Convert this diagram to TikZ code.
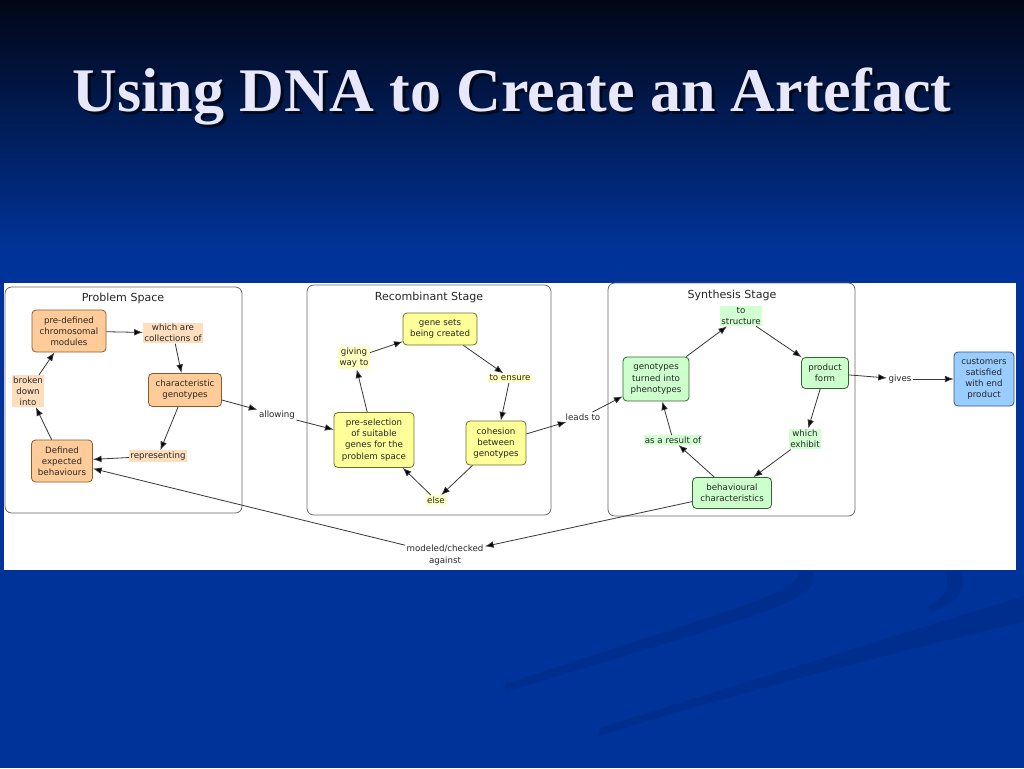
\documentclass[tikz,border=0pt]{standalone}
\usepackage{fontspec}
\setmainfont{Liberation Serif}
\newfontfamily\mapfont{DejaVu Sans}
\usetikzlibrary{positioning,arrows.meta}
\definecolor{bgtop}{RGB}{2,6,22}
\definecolor{bgmid}{RGB}{5,28,96}
\definecolor{bgclr}{RGB}{0,51,153}
\definecolor{swishclr}{RGB}{0,42,132}
\definecolor{titleclr}{RGB}{232,232,250}
\definecolor{probclr}{RGB}{255,204,153}
\definecolor{probedge}{RGB}{140,90,45}
\definecolor{probphr}{RGB}{255,222,190}
\definecolor{recclr}{RGB}{255,255,153}
\definecolor{recedge}{RGB}{110,110,50}
\definecolor{recphr}{RGB}{255,255,190}
\definecolor{synclr}{RGB}{204,255,204}
\definecolor{synedge}{RGB}{50,100,50}
\definecolor{synphr}{RGB}{210,255,210}
\definecolor{custclr}{RGB}{153,204,255}
\definecolor{custedge}{RGB}{50,85,140}
\definecolor{lineclr}{RGB}{55,55,55}
\tikzset{ %
  ,>={Latex[length=6.5pt,width=5pt]}
  ,every node/.style={font=\mapfont\fontsize{6.5}{8.4}\selectfont, text=black!85}
  ,concept/.style={draw, rounded corners=3pt, line width=0.6pt, align=center, inner sep=1pt}
  ,probbox/.style={concept, fill=probclr, draw=probedge}
  ,recbox/.style={concept, fill=recclr, draw=recedge}
  ,synbox/.style={concept, fill=synclr, draw=synedge}
  ,custbox/.style={concept, fill=custclr, draw=custedge}
  ,phrase/.style={align=center, inner sep=1pt}
  ,probphrase/.style={phrase, fill=probphr}
  ,recphrase/.style={phrase, fill=recphr}
  ,synphrase/.style={phrase, fill=synphr}
  ,group/.style={draw=black!60, fill=white, rounded corners=5pt, line width=0.6pt}
  ,grouptitle/.style={font=\mapfont\fontsize{8.3}{10}\selectfont}
  ,link/.style={->, draw=lineclr, line width=0.6pt}
  ,slidetitle/.style={font=\fontsize{46.5}{52}\selectfont\bfseries, inner sep=0}
}
\begin{document}
\begin{tikzpicture}[x=0.75pt,y=-0.75pt]
      \useasboundingbox (0,0) rectangle (1024,768);
      % slide background
      \fill[bgclr] (0,0) rectangle (1024,768);
      \shade[top color=bgtop, middle color=bgmid, bottom color=bgclr] (0,0) rectangle (1024,250);
      \fill[swishclr, opacity=0.45] (812,572) .. controls (826,600) and (760,615) .. (505,692)
        -- (505,684) .. controls (740,606) and (800,592) .. (798,572) -- cycle;
      \fill[swishclr, opacity=0.45] (962,572) .. controls (968,596) and (950,606) .. (930,612)
        -- (928,606) .. controls (944,598) and (950,590) .. (946,572) -- cycle;
      \fill[swishclr, opacity=0.45] (1024,596) -- (1024,622) .. controls (860,660) and (700,705) .. (598,736)
        -- (600,728) .. controls (720,690) and (880,640) .. cycle;
      % title
      \node[slidetitle, text=black, opacity=0.6] (titleshadow) at (515,100) {Using DNA to Create an Artefact};
      \node[slidetitle, text=titleclr] (title) at (512,97) {Using DNA to Create an Artefact};
      % map panel and stages
      \fill[white] (4,283) rectangle (1016,570);
      \draw[group] (5,287) rectangle (242,513);
      \draw[group] (307,285) rectangle (551,515);
      \draw[group] (608,283) rectangle (855,516);
      \node[grouptitle] (probtitle) at (123,298) {Problem Space};
      \node[grouptitle] (rectitle) at (429,297) {Recombinant Stage};
      \node[grouptitle] (syntitle) at (732,295) {Synthesis Stage};
      % problem space
      \draw 
      node[probbox, minimum width=55.5pt, minimum height=31.5pt] (modules) at (69,331) {pre-defined\\chromosomal\\modules}
      node[probphrase] (collections) at (173,333) {which are\\collections of}
      node[probbox, minimum width=54.75pt, minimum height=24.75pt] (chargeno) at (185,390) {characteristic\\genotypes}
      node[probphrase] (representing) at (158,456) {representing}
      node[probbox, minimum width=45.75pt, minimum height=31.5pt] (behaviours) at (62,461) {Defined\\expected\\behaviours}
      node[probphrase] (broken) at (28,391) {broken\\down\\into}
      node[phrase] (allowing) at (277,415) {allowing};
      % recombinant stage
      \draw 
      node[recbox, minimum width=55.5pt, minimum height=24pt] (genesets) at (440,329) {gene sets\\being created}
      node[recphrase] (giving) at (354,358) {giving\\way to}
      node[recphrase] (ensure) at (510,378) {to ensure}
      node[recbox, minimum width=60pt, minimum height=41.25pt] (preselect) at (374,440) {pre-selection\\of suitable\\genes for the\\problem space}
      node[recbox, minimum width=45pt, minimum height=33pt] (cohesion) at (496,443) {cohesion\\between\\genotypes}
      node[recphrase] (else) at (436,500) {else}
      node[phrase] (leads) at (583,417) {leads to};
      % synthesis stage
      \draw 
      node[synphrase] (structure) at (741,316) {to\\structure}
      node[synbox, minimum width=49.5pt, minimum height=33pt] (phenotypes) at (656,379) {genotypes\\turned into\\phenotypes}
      node[synbox, minimum width=35.25pt, minimum height=23.25pt] (product) at (825,373) {product\\form}
      node[synphrase] (exhibit) at (805,439) {which\\exhibit}
      node[synphrase] (result) at (673,440) {as a result of}
      node[synbox, minimum width=59.25pt, minimum height=23.25pt] (behavchar) at (732,493) {behavioural\\characteristics}
      node[phrase] (gives) at (900,379) {gives}
      node[custbox, minimum width=45pt, minimum height=40.5pt] (customers) at (984,379) {customers\\satisfied\\with end\\product}
      node[phrase] (modeled) at (445,555) {modeled/checked\\against};
      \draw [link] (modules) edge (collections) (collections) edge (chargeno) (chargeno) edge (representing)
        (representing) edge (behaviours) (behaviours) edge (broken) (broken) edge (modules)
        (chargeno) edge (allowing) (allowing) edge (preselect);
      \draw [link] (preselect) edge (giving) (giving) edge (genesets) (genesets) edge (ensure)
        (ensure) edge (cohesion) (cohesion) edge (else) (else) edge (preselect)
        (cohesion) edge (leads) (leads) edge (phenotypes);
      \draw [link] (phenotypes) edge (structure) (structure) edge (product) (product) edge (exhibit)
        (exhibit) edge (behavchar) (behavchar) edge (result) (result) edge (phenotypes)
        (product) edge (gives) (gives) edge (customers)
        (behavchar) edge (modeled) (modeled) edge (behaviours);
    \end{tikzpicture}
\end{document}
